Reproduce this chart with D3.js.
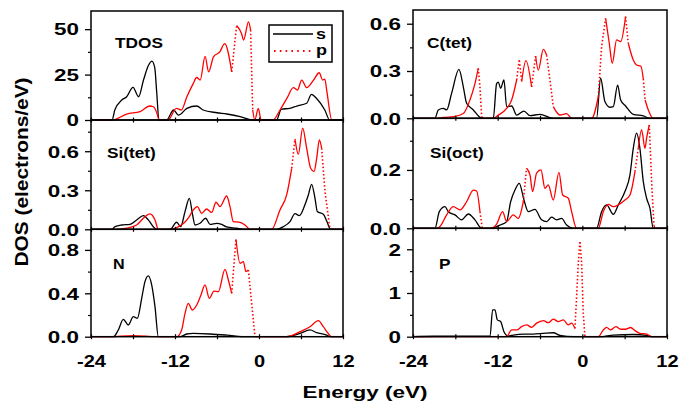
<!DOCTYPE html>
<html><head><meta charset="utf-8">
<script src="https://cdn.jsdelivr.net/npm/d3@7"></script>
<style>html,body{margin:0;padding:0;background:#fff;}svg{display:block;}</style>
</head><body>
<svg id="chart" width="679" height="401"></svg>
<script>
// ---------------- DATA ----------------
const energyTicks = [-24, -12, 0, 12];
const energyMinorTicks = [-18, -6, 6];
const seriesNames = ["s", "p"];
const panelNames = ["TDOS", "C(tet)", "Si(tet)", "Si(oct)", "N", "P"];

const tdosS = [[-24,0],[-21.0,0],[-20.6,5.5],[-19.6,11],[-18.9,12.8],[-18.0,18],[-17.2,12.8],[-16.5,22],[-15.8,30],[-15.3,32.4],[-14.9,29],[-14.6,14.6],[-14.3,0],[-13.2,0],[-12.2,5.5],[-11.5,2.7],[-10.3,6.4],[-8.9,7.7],[-8.0,5.5],[-6.0,4],[-4.6,3.3],[-2.7,1.8],[-1.3,0.2],[-0.8,0],[2.5,0],[3.2,6],[4.4,6.4],[5.4,7.7],[6.8,9.2],[7.5,14.1],[8.2,12],[9.4,5.5],[10.1,0],[12,0]];
const tdosP = [[-24,0],[-20.9,0],[-18.9,3.3],[-17.0,4.6],[-15.6,7.7],[-15.1,7.3],[-14.5,2.7],[-14.3,0],[-13.0,0],[-11.8,6.4],[-11.1,5.5],[-10.3,12.8],[-9.4,20],[-8.9,23.4],[-8.4,22],[-7.7,35],[-7.2,26.5],[-6.5,34.8],[-5.6,37.5],[-4.9,42],[-3.9,26.5],[-3.2,52],[-2.5,47.6],[-2.2,44],[-1.5,54],[-1.2,49.5],[-0.9,5.5],[-0.6,0],[-0.1,6.4],[0.3,0],[2.0,0],[3.0,5.5],[4.0,12],[4.9,17.8],[5.5,16.5],[6.1,22],[6.8,17.8],[7.8,22],[8.6,26],[9.1,22],[9.4,22.5],[9.7,15.6],[10.4,0],[12,0]];

const ctetS = [[-24,0],[-20.9,0],[-20.41,0.053],[-19.71,0.063],[-19.23,0.053],[-18.52,0.16],[-17.49,0.31],[-16.87,0.2],[-16.4,0.095],[-15.45,0.053],[-14.51,0.006],[-14.04,0],[-12.62,0],[-12.15,0.22],[-11.91,0.23],[-11.58,0.19],[-11.11,0.243],[-10.73,0.074],[-10.02,0.078],[-9.31,0.02],[-8.27,0.046],[-7.42,0.017],[-6.01,0.025],[-4.12,0],[2.02,0],[2.59,0.254],[3.2,0.106],[3.91,0.07],[4.39,0.074],[5.0,0.211],[5.43,0.116],[6.13,0.078],[7.22,0.025],[8.64,0.015],[9.58,0],[12,0]];
const ctetP = [[-24,0],[-20.5,0],[-19.71,0.006],[-18.29,0.01],[-16.87,0.03],[-15.93,0.116],[-15.22,0.22],[-14.75,0.317],[-14.51,0.2],[-14.27,0.01],[-14.04,0],[-12.62,0],[-11.91,0.02],[-10.73,0.063],[-10.02,0.116],[-9.31,0.243],[-8.94,0.374],[-8.6,0.233],[-7.99,0.366],[-7.19,0.2],[-6.62,0.395],[-6.24,0.306],[-5.53,0.437],[-5.06,0.40],[-4.59,0.243],[-4.12,0.074],[-3.17,0.021],[-2.23,0.03],[-1.52,0],[1.32,0],[2.26,0.137],[2.73,0.454],[3.3,0.634],[3.82,0.476],[4.24,0.349],[4.86,0.497],[5.43,0.486],[6.13,0.645],[6.51,0.476],[7.22,0.37],[7.69,0.338],[8.3,0.33],[8.64,0.25],[8.9,0.116],[9.35,0.053],[10.05,0],[12,0]];

const sitetS = [[-24,0],[-21.0,0],[-20.57,0.02],[-19.62,0.033],[-18.43,0.038],[-17.48,0.072],[-16.52,0.105],[-15.81,0.072],[-15.1,0.02],[-14.62,0],[-12.72,0],[-11.76,0.054],[-11.19,0.02],[-10.57,0.136],[-9.95,0.238],[-9.48,0.11],[-9.14,0.033],[-8.43,0.046],[-7.62,0.085],[-7.0,0.038],[-6.05,0.046],[-5.33,0.038],[-4.62,0.018],[-3.19,0.008],[-2.24,0],[2.52,0],[3.47,0.02],[4.43,0.059],[5.14,0.12],[5.76,0.105],[6.57,0.19],[7.05,0.264],[7.52,0.346],[8.0,0.238],[8.33,0.136],[9.19,0.115],[9.67,0.064],[10.24,0],[12,0]];
const sitetP = [[-24,0],[-20.33,0],[-18.91,0.008],[-17.48,0.033],[-16.29,0.097],[-15.57,0.118],[-14.86,0.072],[-14.38,0],[-12.95,0],[-11.76,0.013],[-10.1,0.085],[-9.38,0.149],[-8.81,0.174],[-8.19,0.123],[-7.48,0.156],[-6.76,0.13],[-6.14,0.208],[-5.57,0.174],[-4.62,0.256],[-4.14,0.174],[-3.67,0.059],[-2.71,0.054],[-2.0,0.033],[-1.29,0],[1.81,0],[3.0,0.149],[3.95,0.264],[4.67,0.469],[5.14,0.695],[5.62,0.577],[6.24,0.777],[6.81,0.623],[7.38,0.469],[7.86,0.444],[8.24,0.546],[8.62,0.687],[8.95,0.623],[9.43,0.29],[10.14,0],[12,0]];

const sioctS = [[-24,0],[-20.89,0],[-20.27,0.057],[-19.47,0.074],[-19.0,0.057],[-18.05,0.046],[-17.11,0.029],[-16.16,0.049],[-15.22,0.029],[-14.27,0],[-13.09,0],[-11.67,0.011],[-10.73,0.023],[-10.16,0.091],[-9.55,0.131],[-8.94,0.154],[-8.27,0.097],[-7.66,0.057],[-6.72,0.065],[-5.77,0.029],[-5.06,0.023],[-4.35,0.038],[-3.65,0.029],[-2.94,0.034],[-2.23,0.011],[-1.28,0],[2.02,0],[2.73,0.057],[3.44,0.08],[4.39,0.048],[5.09,0.08],[6.04,0.126],[6.75,0.183],[7.22,0.274],[7.69,0.326],[8.16,0.274],[8.64,0.16],[9.11,0.103],[9.58,0.069],[10.05,0],[12,0]];
const sioctP = [[-24,0],[-20.6,0],[-20.18,0.006],[-19.23,0.046],[-18.29,0.074],[-17.34,0.063],[-16.4,0.091],[-15.45,0.131],[-14.98,0.128],[-14.51,0.057],[-14.18,0],[-12.86,0],[-12.15,0.014],[-11.3,0.057],[-10.73,0.023],[-9.79,0.046],[-9.08,0.034],[-8.37,0.091],[-7.9,0.206],[-7.42,0.183],[-7.05,0.126],[-6.48,0.189],[-5.86,0.2],[-5.3,0.137],[-4.83,0.149],[-4.12,0.097],[-3.31,0.192],[-2.79,0.114],[-1.99,0.103],[-1.52,0.057],[-0.81,0],[2.26,0],[2.97,0.057],[3.68,0.082],[4.39,0.074],[5.09,0.08],[6.04,0.097],[6.75,0.114],[7.46,0.194],[7.93,0.274],[8.4,0.337],[8.88,0.274],[9.11,0.309],[9.49,0.354],[9.82,0.16],[10.15,0.011],[10.29,0],[12,0]];

const nS = [[-24,0],[-20.81,0],[-20.1,0.062],[-19.38,0.16],[-18.67,0.108],[-17.95,0.185],[-17.38,0.17],[-16.76,0.354],[-16.29,0.508],[-15.81,0.56],[-15.33,0.477],[-14.86,0.277],[-14.38,0],[-11.29,0],[-10.33,0.025],[-9.38,0.03],[-7.0,0.025],[-4.62,0.015],[-1.76,0],[3.95,0],[5.86,0.03],[7.29,0.062],[8.24,0.037],[9.67,0.015],[10.14,0],[12,0]];
const nP = [[-24,0],[-21.29,0],[-17.95,0.01],[-14.62,0],[-11.76,0],[-11.05,0.062],[-10.57,0.215],[-10.1,0.308],[-9.52,0.246],[-8.9,0.292],[-8.29,0.385],[-7.71,0.477],[-7.1,0.354],[-6.43,0.42],[-5.81,0.415],[-4.86,0.62],[-4.38,0.523],[-3.9,0.4],[-3.29,0.898],[-2.71,0.677],[-2.24,0.692],[-1.86,0.6],[-1.52,0.615],[-1.05,0.308],[-0.57,0],[3.95,0],[5.86,0.046],[7.29,0.092],[8.48,0.148],[9.19,0.092],[9.9,0.03],[10.38,0],[12,0]];

const pS = [[-24,0],[-21,0.01],[-13.3,0.01],[-13.09,0.015],[-12.71,0.615],[-12.38,0.615],[-12.05,0.385],[-11.58,0.346],[-11.11,0.115],[-10.49,0.015],[-9.79,0.038],[-8.37,0.06],[-6.95,0.06],[-5.53,0.077],[-4.12,0.09],[-3.17,0.03],[-1.28,0],[2.5,0],[4.39,0.038],[7.22,0.05],[9.11,0.03],[10.05,0],[12,0]];
const pP = [[-24,0],[-10.73,0],[-10.02,0.154],[-9.31,0.154],[-8.6,0.23],[-7.9,0.27],[-7.19,0.215],[-6.48,0.31],[-5.53,0.37],[-4.83,0.32],[-4.12,0.4],[-3.41,0.346],[-2.7,0.385],[-1.99,0.27],[-1.52,0.31],[-1.05,0.19],[-0.81,0.92],[-0.57,1.69],[-0.34,2.19],[-0.1,1.69],[0.13,0.54],[0.37,0],[2.26,0],[2.97,0.154],[3.44,0.215],[4.0,0.154],[4.76,0.23],[5.43,0.17],[6.13,0.17],[6.84,0.21],[7.46,0.14],[8.16,0.077],[9.11,0.06],[9.82,0],[12,0]];

const tdosTicks = [0, 25, 50], tdosMinor = [12.5, 37.5];
const ctetTicks = [0, 0.3, 0.6], ctetMinor = [0.15, 0.45];
const sitetTicks = [0, 0.3, 0.6], sitetMinor = [0.15, 0.45, 0.75];
const sioctTicks = [0, 0.2], sioctMinor = [0.1, 0.3];
const nTicks = [0, 0.4, 0.8], nMinor = [0.2, 0.6];
const pTicks = [0, 1, 2], pMinor = [0.5, 1.5];

// ---------------- LAYOUT ----------------
const FONT = '"Liberation Sans", Arial, Helvetica, sans-serif';
const svg = d3.select("#chart");
const cols = [{x0: 91, x1: 343}, {x0: 413, x1: 667}];
const rowsL = [[11, 120], [120, 229.3], [229.3, 336.7]];
const rowsR = [[10, 118.3], [118.3, 228.3], [228.3, 336.7]];
const dec1 = d => d.toFixed(1);
const int0 = d => String(d);

const panels = [
  {name: panelNames[0], s: tdosS, p: tdosP, yMax: 60, ticks: tdosTicks, minor: tdosMinor, fmt: int0, col: 0, row: 0, lab: [115, 48], legend: true},
  {name: panelNames[1], s: ctetS, p: ctetP, yMax: 0.687, ticks: ctetTicks, minor: ctetMinor, fmt: dec1, col: 1, row: 0, lab: [427, 48]},
  {name: panelNames[2], s: sitetS, p: sitetP, yMax: 0.84, ticks: sitetTicks, minor: sitetMinor, fmt: dec1, col: 0, row: 1, lab: [107, 158]},
  {name: panelNames[3], s: sioctS, p: sioctP, yMax: 0.377, ticks: sioctTicks, minor: sioctMinor, fmt: dec1, col: 1, row: 1, lab: [430, 158]},
  {name: panelNames[4], s: nS, p: nP, yMax: 0.99, ticks: nTicks, minor: nMinor, fmt: dec1, col: 0, row: 2, lab: [113, 269]},
  {name: panelNames[5], s: pS, p: pP, yMax: 2.48, ticks: pTicks, minor: pMinor, fmt: int0, col: 1, row: 2, lab: [439, 269]},
];

function stretchText(sel, sx) {
  sel.each(function() {
    const t = d3.select(this);
    const x = +t.attr("x") || 0, y = +t.attr("y") || 0;
    t.attr("x", 0).attr("y", 0).attr("transform", `translate(${x},${y}) scale(${sx},1)`);
  });
}

// split a series into runs of gentle segments (solid) and steep segments (dotted)
function splitRuns(data, x, y, thr) {
  const runs = [];
  let cur = null;
  for (let i = 1; i < data.length; i++) {
    const a = data[i - 1], b = data[i];
    const dx = Math.abs(x(b[0]) - x(a[0])), dy = Math.abs(y(b[1]) - y(a[1]));
    const steep = dy > thr * Math.max(dx, 0.01);
    if (!cur || cur.steep !== steep) {
      cur = {steep, pts: [a]};
      runs.push(cur);
    }
    cur.pts.push(b);
  }
  return runs;
}

panels.forEach(pn => {
  const c = cols[pn.col];
  const r = (pn.col === 0 ? rowsL : rowsR)[pn.row];
  const x = d3.scaleLinear().domain([-24, 12]).range([c.x0, c.x1]);
  const y = d3.scaleLinear().domain([0, pn.yMax]).range([r[1], r[0]]);
  const g = svg.append("g");

  const smooth = d3.line().x(d => x(d[0])).y(d => y(d[1])).curve(d3.curveMonotoneX);
  const straight = d3.line().x(d => x(d[0])).y(d => y(d[1]));
  g.append("path").datum(pn.s).attr("d", smooth).attr("fill", "none").attr("stroke", "#000").attr("stroke-width", 1.3);

  splitRuns(pn.p, x, y, 7).forEach(run => {
    const pth = g.append("path").datum(run.pts).attr("fill", "none").attr("stroke", "#ff0000");
    if (run.steep) {
      pth.attr("d", straight).attr("stroke-width", 1.6).attr("stroke-dasharray", "1.5,2.2");
    } else {
      pth.attr("d", smooth).attr("stroke-width", 1.3);
    }
  });

  // frame
  g.append("rect").attr("x", c.x0).attr("y", r[0]).attr("width", c.x1 - c.x0).attr("height", r[1] - r[0])
    .attr("fill", "none").attr("stroke", "#000").attr("stroke-width", 1.5);

  // y axis major
  const ya = g.append("g").attr("transform", `translate(${c.x0},0)`)
    .call(d3.axisLeft(y).tickValues(pn.ticks).tickSize(6).tickFormat(pn.fmt));
  ya.select(".domain").remove();
  ya.selectAll("line").attr("stroke-width", 1.3);
  ya.selectAll("text").attr("x", -12).attr("dy", null).attr("y", 5.8)
    .style("font", `bold 16.5px ${FONT}`).attr("fill", "#000");
  stretchText(ya.selectAll("text"), 1.36);
  // y minor
  const ym = g.append("g").attr("transform", `translate(${c.x0},0)`)
    .call(d3.axisLeft(y).tickValues(pn.minor).tickSize(3).tickFormat(""));
  ym.select(".domain").remove();
  ym.selectAll("line").attr("stroke-width", 1.2);

  // x ticks (crossing bottom edge)
  const xa = g.append("g").attr("transform", `translate(0,${r[1] + 2.5})`)
    .call(d3.axisTop(x).tickValues(energyTicks.concat(energyMinorTicks)).tickSize(5).tickFormat(""));
  xa.select(".domain").remove();
  xa.selectAll("line").attr("stroke-width", 1.2);

  if (pn.row === 2) {
    const xl = g.append("g").attr("transform", `translate(0,${r[1]})`)
      .call(d3.axisBottom(x).tickValues(energyTicks).tickSize(0).tickFormat(int0));
    xl.select(".domain").remove();
    xl.selectAll("text").attr("dy", null).attr("y", 30.3).style("font", `bold 17px ${FONT}`).attr("fill", "#000");
    stretchText(xl.selectAll("text"), 1.18);
  }

  // panel label
  g.append("text").attr("transform", `translate(${pn.lab[0]},${pn.lab[1]}) scale(1.15,1)`)
    .style("font", `bold ${pn.name === "N" ? 14 : 15}px ${FONT}`).text(pn.name);

  if (pn.legend) {
    const lg = g.append("g");
    lg.append("rect").attr("x", 269).attr("y", 25).attr("width", 63).attr("height", 37)
      .attr("fill", "#fff").attr("stroke", "#000").attr("stroke-width", 1.5);
    lg.append("line").attr("x1", 273).attr("x2", 313).attr("y1", 34).attr("y2", 34)
      .attr("stroke", "#000").attr("stroke-width", 1.4);
    lg.append("line").attr("x1", 274).attr("x2", 313).attr("y1", 51).attr("y2", 51)
      .attr("stroke", "#ff0000").attr("stroke-width", 1.8).attr("stroke-dasharray", "1.6,4.2");
    lg.append("text").attr("transform", "translate(316,38.5) scale(1.2,1)").style("font", `bold 15px ${FONT}`).text(seriesNames[0]);
    lg.append("text").attr("transform", "translate(316,54.5) scale(1.2,1)").style("font", `bold 15px ${FONT}`).text(seriesNames[1]);
  }
});

// axis titles
svg.append("text").attr("transform", "translate(365,398) scale(1.38,1)").attr("text-anchor", "middle")
  .style("font", `bold 16.3px ${FONT}`).text("Energy (eV)");
svg.append("text").attr("transform", "translate(28,172) rotate(-90) scale(1.16,1)").attr("text-anchor", "middle")
  .style("font", `bold 18px ${FONT}`).text("DOS (electrons/eV)");
</script>
</body></html>
